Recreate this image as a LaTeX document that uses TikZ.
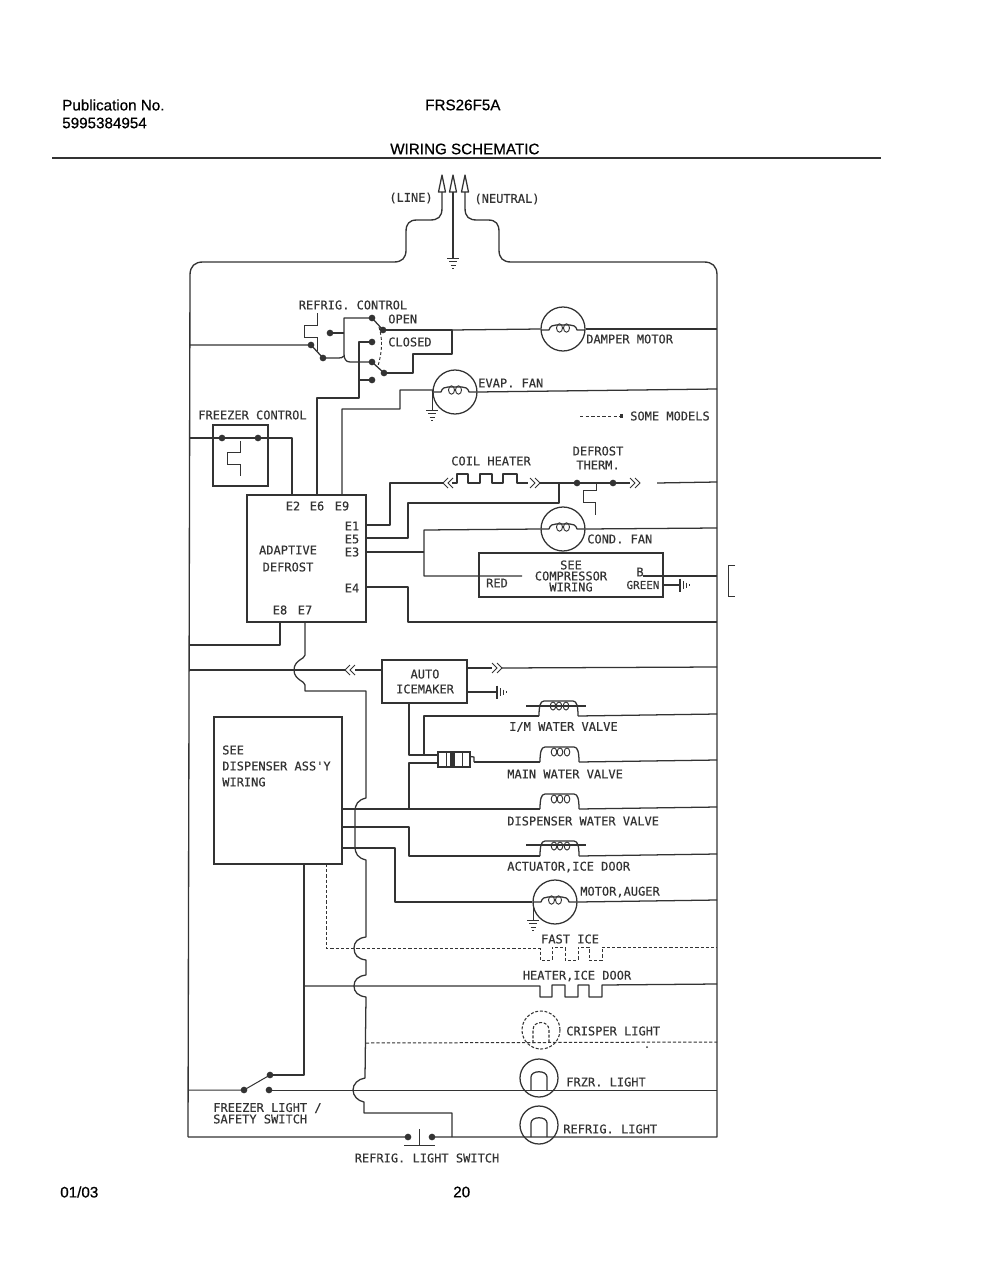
\documentclass[tikz,border=0pt]{standalone}
\usepackage{fontspec}
\setmainfont{Liberation Sans}[FakeBold=0.6]
\newfontfamily\headfont{Liberation Sans}[FakeBold=0.6]
\newfontfamily\cadfont{DejaVu Sans Mono}[FakeBold=0.35]
\definecolor{ink}{HTML}{333333}
\tikzset{
  x=0.75pt,y=-0.75pt,
  wire/.style={draw=ink,line width=0.95pt,line join=round},
  thin wire/.style={draw=ink,line width=0.7pt},
  dash wire/.style={draw=ink,line width=0.75pt,dash pattern=on 2.4pt off 1.5pt},
  dot/.style={circle,fill=ink,draw=none,inner sep=0pt,minimum size=5pt},
  cad/.style={font=\cadfont\fontsize{9}{9}\selectfont,text=ink,inner sep=0pt,anchor=center},
  cadw/.style={cad,anchor=west},
  head/.style={font=\headfont\fontsize{11.4}{12}\selectfont,text=black,inner sep=0pt,anchor=west},
  comp/.style={draw=ink,line width=0.95pt,inner sep=0pt,fill=none},
  motorc/.style={circle,draw=ink,line width=0.95pt,minimum size=33pt,inner sep=0pt},
  lampc/.style={circle,draw=ink,line width=0.95pt,minimum size=28.5pt,inner sep=0pt},
  lampd/.style={circle,draw=ink,line width=0.8pt,dash pattern=on 2.2pt off 1.3pt,minimum size=28.5pt,inner sep=0pt},
}
% motor winding inside a circle
\newcommand\motorcoil[2]{\begin{scope}[shift={(#1,#2)}]
  \draw[wire] (-22,1) -- (-14,1) .. controls (-13,-3) and (-10,-4) .. (-7,-4) -- (7,-4) .. controls (10,-4) and (13,-3) .. (14,1) -- (22,1);
  \draw[thin wire] (-3.5,-1) ellipse (3 and 4.2);
  \draw[thin wire] (3.5,-1) ellipse (3 and 4.2);
  \end{scope}}
% valve solenoid: #1 left x, #2 baseline y
\newcommand\valvecoil[2]{\begin{scope}[shift={(#1,#2)}]
  \draw[wire] (0,0) .. controls (0,-9) and (1,-15) .. (5,-15) -- (34,-15) .. controls (38,-15) and (39,-9) .. (39,0);
  \foreach \k in {14,20,27} {\draw[thin wire] (\k,-10) ellipse (2.8 and 4);}
  \end{scope}}
\newcommand\earth[2]{\begin{scope}[shift={(#1,#2)}]
  \draw[thin wire] (-6,0) -- (6,0) (-4,3.5) -- (4,3.5) (-2.5,7) -- (2.5,7) (-1,10) -- (1,10);
  \end{scope}}
\newcommand\chassis[2]{\begin{scope}[shift={(#1,#2)}]
  \draw[wire] (0,-6.5) -- (0,6.5);
  \draw[thin wire] (3.5,-4) -- (3.5,4) (6.5,-2.5) -- (6.5,2.5) (9.5,-1) -- (9.5,1);
  \end{scope}}
\newcommand\chevR[2]{\draw[thin wire] (#1,#2-5) -- (#1+5,#2) -- (#1,#2+5) (#1+5,#2-5) -- (#1+10,#2) -- (#1+5,#2+5);}
\newcommand\chevL[2]{\draw[thin wire] (#1+5,#2-5) -- (#1,#2) -- (#1+5,#2+5) (#1+10,#2-5) -- (#1+5,#2) -- (#1+10,#2+5);}
\newcommand\lampu[3]{\draw[wire] (#1-8,#3) -- (#1-8,#2+7) .. controls (#1-8,#2) and (#1+8,#2) .. (#1+8,#2+7) -- (#1+8,#3);}
\begin{document}
\begin{tikzpicture}
\useasboundingbox (0,0) rectangle (1000,1280);
\fill[white] (0,0) rectangle (1000,1280);

% ---------- header / footer
\node[head] (pub) at (62,105) {Publication No.};
\node[head] (num) at (62,123) {5995384954};
\node[head] (mdl) at (425,105) {FRS26F5A};
\node[head] (ttl) at (390,149) {WIRING SCHEMATIC};
\coordinate (ruleL) at (52,158); \coordinate (ruleR) at (881,158);
\draw[draw=ink,line width=1pt] (ruleL) -- (ruleR);
\node[head] (date) at (60,1192) {01/03};
\node[head] (page) at (453,1192) {20};

% ---------- supply
\coordinate (tipL) at (442,192); \coordinate (tipG) at (453,192); \coordinate (tipN) at (465,192);
\coordinate (gnd0) at (453,258);
\foreach \c in {tipL,tipG,tipN} {\draw[wire,fill=white] (\c) ++(-3.5,0) -- ++(3.5,-17) -- ++(3.5,17) -- cycle;}
\draw[wire] (tipG) -- (gnd0);
\earth{453}{258}
\node[cad] (lLine) at (411,198) {(LINE)};
\node[cad] (lNeut) at (507,199) {(NEUTRAL)};

% ---------- outer bus
\coordinate (busTL) at (190,262); \coordinate (busTR) at (717,262);
\coordinate (busBL) at (188,1137); \coordinate (busBR) at (717,1137);
\draw[wire,line width=1pt] (tipL) -- (442,208) .. controls (442,217) and (438,220) .. (430,220) -- (417,220) .. controls (409,220) and (406,224) .. (406,232) -- (406,250) .. controls (406,258) and (402,262) .. (394,262) -- (203,262) .. controls (195,262) and (190,266) .. (190,275) -- (188,1137);
\draw[wire,line width=1pt] (tipN) -- (465,208) .. controls (465,217) and (469,220) .. (477,220) -- (488,220) .. controls (496,220) and (499,224) .. (499,232) -- (499,250) .. controls (499,258) and (503,262) .. (511,262) -- (704,262) .. controls (712,262) and (717,266) .. (717,275) -- (717,1137) -- (busBL);

% ---------- refrigerator control
\node[cad] (lRC) at (353,305) {REFRIG. CONTROL};
\node[cadw] (lOpen) at (388,319) {OPEN};
\node[cadw] (lClosed) at (388,342) {CLOSED};
\node[dot] (rc1) at (311,345) {};
\node[dot] (rc2) at (323,358) {};
\node[dot] (rc3) at (330,333) {};
\node[dot] (rc4) at (372,318) {};
\node[dot] (rc5) at (383,330) {};
\node[dot] (rc6) at (372,342) {};
\node[dot] (rc7) at (372,362) {};
\node[dot] (rc8) at (384,373) {};
\node[dot] (rc9) at (372,380) {};
\draw[wire] (190,345) -- (rc1.center) -- (rc2.center);
\draw[thin wire] (317,313) -- (317,325) -- (304,325) -- (304,337) -- (317,337) -- (317,351);
\draw[wire] (rc3.center) -- (344,333);
\draw[wire] (rc4.center) -- (344,318) -- (344,354) .. controls (344,359) and (346,362) .. (350,362) -- (rc7.center);
\draw[wire] (rc2.center) -- (338,358) .. controls (341,358) and (342,358) .. (344,356);
\draw[wire] (rc4.center) -- (rc5.center);
\draw[wire] (rc7.center) -- (rc8.center);
\draw[draw=ink,line width=0.7pt,dash pattern=on 2.2pt off 1.6pt] (379,327) .. controls (383,340) and (382,352) .. (378,366);

\node[motorc] (damper) at (563,329) {};
\motorcoil{563}{329}
\node[cadw] (lDamper) at (586,339) {DAMPER MOTOR};
\draw[wire] (rc5.center) -- (452,330) -- (452,354) -- (413,354) -- (413,373) -- (rc8.center);
\draw[wire] (452,330) -- (damper.west);
\draw[wire] (damper.east) -- (717,329);

\draw[wire] (rc6.center) -- (359,342) -- (359,398) -- (317,398) -- (317,495);
\draw[wire] (rc9.center) -- (359,380);

\node[motorc] (evap) at (455,392) {};
\motorcoil{455}{391}
\node[cadw] (lEvap) at (478,383) {EVAP. FAN};
\draw[wire] (evap.west) -- (433,390) -- (400,390) -- (400,409) -- (342,409) -- (342,495);
\draw[wire] (evap.east) -- (717,389);
\draw[thin wire] (432,392) -- (432,410);
\earth{432}{410}

% ---------- some models
\coordinate (smA) at (580,416); \coordinate (smB) at (622,416);
\draw[draw=ink,line width=0.7pt,dash pattern=on 2.5pt off 1.7pt] (smA) -- (smB);
\fill[ink] (620,414.3) rectangle (623.4,417.7);
\node[cadw] (lSome) at (630,416) {SOME MODELS};

% ---------- freezer control
\node[cadw] (lFC) at (198,415) {FREEZER CONTROL};
\node[comp,minimum width=41.25pt,minimum height=45.75pt] (fcbox) at (240.5,455.5) {};
\node[dot] (fc1) at (222,438) {};
\node[dot] (fc2) at (258,438) {};
\draw[wire] (190,438) -- (fc1.center) -- (fc2.center) -- (292,438) -- (292,495);
\draw[thin wire] (240,441) -- (240,452) -- (227,452) -- (227,464) -- (240,464) -- (240,476);

% ---------- adaptive defrost
\node[comp,minimum width=89.25pt,minimum height=95.25pt] (adbox) at (306.5,558.5) {};
\node[cad] at (293,506) {E2};
\node[cad] at (317,506) {E6};
\node[cad] at (342,506) {E9};
\node[cad] at (352,526) {E1};
\node[cad] at (352,539) {E5};
\node[cad] at (352,552) {E3};
\node[cad] at (352,588) {E4};
\node[cad] at (280,610) {E8};
\node[cad] at (305,610) {E7};
\node[cad] (lAd1) at (288,550) {ADAPTIVE};
\node[cad] (lAd2) at (288,567) {DEFROST};

% ---------- coil heater / defrost therm
\node[cad] (lCH) at (491,461) {COIL HEATER};
\node[cad] (lDF1) at (598,451) {DEFROST};
\node[cad] (lDF2) at (598,465) {THERM.};
\node[dot] (df1) at (577,483) {};
\node[dot] (df2) at (613,483) {};
\draw[wire] (366,525) -- (390,525) -- (390,483) -- (443,483);
\chevL{443}{483}
\draw[wire] (452,483) -- (457,483) -- (457,474) -- (468,474) -- (468,483) -- (480,483) -- (480,474) -- (492,474) -- (492,483) -- (503,483) -- (503,474) -- (517,474) -- (517,483) -- (528,483);
\chevR{530}{483}
\draw[wire] (540,483) -- (df1.center) -- (df2.center) -- (630,483);
\chevR{630}{483}
\draw[wire] (657,483) -- (717,482);
\draw[wire] (366,538) -- (408,538) -- (408,503) -- (559,503) -- (559,483);
\draw[thin wire] (596,483) -- (596,490) -- (583,490) -- (583,502) -- (595,502) -- (595,515);

% ---------- cond fan, compressor
\node[motorc] (cond) at (563,529) {};
\motorcoil{563}{528}
\node[cadw] (lCond) at (587,539) {COND. FAN};
\draw[wire] (366,552) -- (424,552);
\draw[wire] (cond.west) -- (424,530) -- (424,576) -- (522,576);
\draw[wire] (cond.east) -- (717,528);
\node[comp,minimum width=138pt,minimum height=33pt] (comp) at (571,575) {};
\node[cad] at (571,565) {SEE};
\node[cad] at (571,576) {COMPRESSOR};
\node[cad] at (571,587) {WIRING};
\node[cad] at (497,583) {RED};
\node[cad] at (640,572) {B};
\node[cad,font=\cadfont\fontsize{8.2}{9}\selectfont] at (643,585) {GREEN};
\draw[wire] (643,576) -- (717,576);
\draw[wire] (comp.east |- 0,585) -- (680,585);
\chassis{680}{585}
\draw[thin wire] (735,565) -- (728,565) -- (728,596) -- (735,596);
\draw[wire] (366,587) -- (408,587) -- (408,622) -- (717,622);

% ---------- E8, E7
\draw[wire] (280,622) -- (280,645) -- (190,645);
\draw[wire] (305,622) -- (305,655) .. controls (305,659) and (294,660) .. (294,670) .. controls (294,680) and (305,681) .. (305,685) -- (305,691) -- (366,691) -- (366,798) .. controls (358,800) and (355,804) .. (355,812) -- (355,846) .. controls (355,854) and (358,858) .. (366,860) -- (366,937) .. controls (358,938) and (354,942) .. (354,948) .. controls (354,955) and (358,959) .. (366,960) -- (366,975) .. controls (358,976) and (354,980) .. (354,986) .. controls (354,992) and (358,996) .. (366,997) -- (365,1078) .. controls (358,1079) and (353,1084) .. (353,1090) .. controls (353,1096) and (358,1101) .. (364,1102) -- (364,1113) -- (452,1113) -- (452,1137);

% ---------- auto icemaker
\node[comp,minimum width=63.75pt,minimum height=32.25pt] (ice) at (424.5,681.5) {};
\node[cad] at (425,674) {AUTO};
\node[cad] at (425,689) {ICEMAKER};
\draw[wire] (190,670) -- (345,670);
\chevL{345}{670}
\draw[wire] (355,670) -- (382,670);
\draw[wire] (467,668) -- (492,668);
\chevR{492}{668}
\draw[wire] (502,668) -- (717,667);
\draw[wire] (467,692) -- (497,692);
\chassis{497}{692}
\draw[wire] (409,703) -- (409,755) -- (438,755);
\draw[wire] (424,755) -- (424,716) -- (539,716);

% ---------- water valves
\draw[wire] (526,706) -- (586,706);
\valvecoil{539}{716}
\draw[wire] (578,716) -- (717,714);
\node[cadw] at (509,727) {I/M WATER VALVE};

\node[draw=ink,line width=0.8pt,fill=white,inner sep=0pt,minimum width=24pt,minimum height=11.25pt] (conn) at (454,759.5) {};
\fill[ink] (450,752) rectangle (455,767);
\draw[thin wire] (446,752) -- (446,767) (462,752) -- (462,767);
\draw[wire] (conn.east) ++(0,-3) -- (474,757) -- (474,762);
\draw[wire] (438,763) -- (409,763) -- (409,809);
\draw[wire] (474,762) -- (540,762);
\valvecoil{540}{762}
\draw[wire] (579,762) -- (717,760);
\node[cadw] at (507,774) {MAIN WATER VALVE};

% ---------- dispenser
\node[comp,minimum width=96pt,minimum height=110.25pt] (disp) at (278,790.5) {};
\node[cadw] at (222,750) {SEE};
\node[cadw] at (222,766) {DISPENSER ASS'Y};
\node[cadw] at (222,782) {WIRING};
\draw[wire] (342,809) -- (540,809);
\valvecoil{540}{809}
\draw[wire] (579,809) -- (717,807);
\node[cadw] at (507,821) {DISPENSER WATER VALVE};
\draw[wire] (342,827) -- (409,827) -- (409,856) -- (540,856);
\draw[wire] (526,845) -- (586,845);
\valvecoil{540}{856}
\draw[wire] (579,856) -- (717,854);
\node[cadw] at (507,867) {ACTUATOR,ICE DOOR};

% ---------- auger
\node[motorc] (auger) at (555,902) {};
\motorcoil{555}{901}
\draw[wire] (342,848) -- (395,848) -- (395,902) -- (auger.west);
\draw[wire] (auger.east) -- (717,900);
\draw[thin wire] (533,902) -- (533,920);
\earth{533}{920}
\node[cadw] at (580,892) {MOTOR,AUGER};

% ---------- fast ice
\node[cad] at (570,939) {FAST ICE};
\draw[dash wire] (326,864) -- (326,948) -- (540,948) -- (540,960) -- (552,960) -- (552,947) -- (565,947) -- (565,960) -- (578,960) -- (578,947) -- (589,947) -- (589,960) -- (602,960) -- (602,947) -- (717,947);

% ---------- ice door heater
\node[cad] at (577,976) {HEATER,ICE DOOR};
\draw[wire] (304,986) -- (540,986) -- (540,997) -- (552,997) -- (552,985) -- (565,985) -- (565,997) -- (578,997) -- (578,985) -- (589,985) -- (589,997) -- (602,997) -- (602,985) -- (717,984);

% ---------- lights
\node[lampd] (crisp) at (541,1030) {};
\draw[draw=ink,line width=0.8pt,dash pattern=on 2.2pt off 1.3pt] (533,1043) -- (533,1030) .. controls (533,1020) and (549,1020) .. (549,1030) -- (549,1043);
\draw[dash wire] (366,1043) -- (717,1042);
\node[cadw] at (566,1031) {CRISPER LIGHT};
\fill[ink] (647,1047) circle (1);

\node[lampc] (frzr) at (539,1078) {};
\lampu{539}{1070}{1090}
\node[cadw] at (566,1082) {FRZR. LIGHT};

\node[lampc] (ref) at (539,1125) {};
\lampu{539}{1116}{1137}
\node[cadw] at (563,1129) {REFRIG. LIGHT};

% ---------- freezer light switch
\node[dot] (fl1) at (244,1090) {};
\node[dot] (fl2) at (269,1090) {};
\node[dot] (fl3) at (270,1075) {};
\draw[wire,line width=0.75pt] (189,1090) -- (fl1.center) -- (fl3.center);
\draw[wire,line width=0.75pt] (fl2.center) -- (717,1090);
\draw[wire] (disp.south -| 304,0) -- (304,1075) -- (fl3.center);
\node[cadw] at (213,1108) {FREEZER LIGHT /};
\node[cadw] at (213,1119) {SAFETY SWITCH};

% ---------- refrigerator light switch
\fill[white] (411,1134) rectangle (429,1140);
\node[dot] (rl1) at (408,1137) {};
\node[dot] (rl2) at (432,1137) {};
\draw[thin wire] (419,1129) -- (419,1145) (404,1145) -- (435,1145);
\node[cad] at (427,1158) {REFRIG. LIGHT SWITCH};
\end{tikzpicture}
\end{document}
